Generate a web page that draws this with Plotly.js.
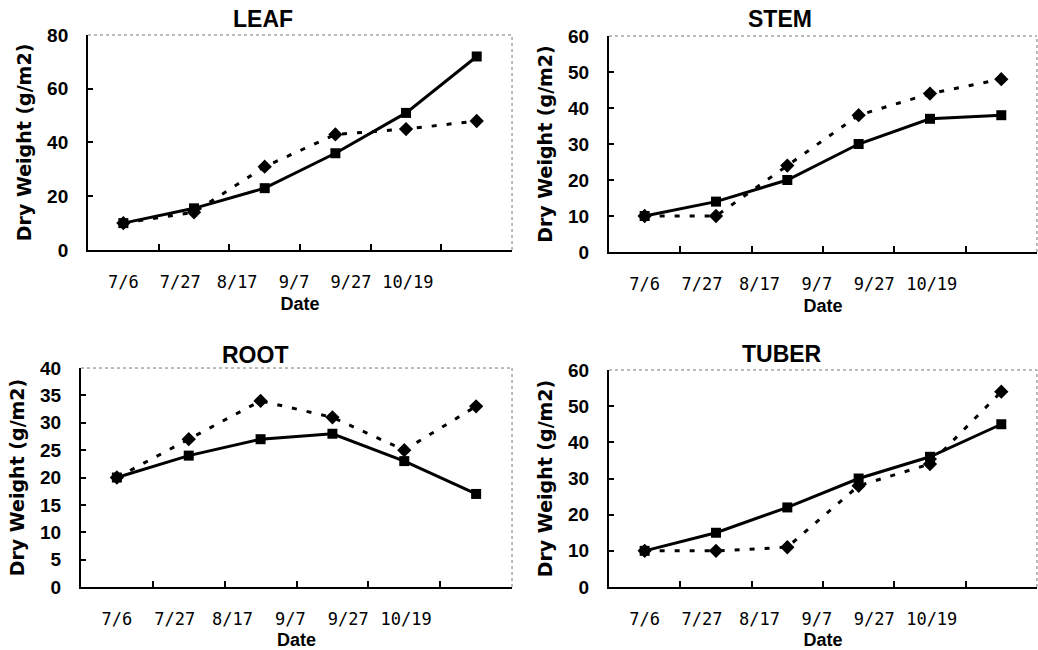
<!DOCTYPE html>
<html><head><meta charset="utf-8">
<script src="https://cdn.plot.ly/plotly-3.0.1.min.js"></script>
<style>html,body{margin:0;padding:0;background:#fff}#chart{width:1038px;height:650px}</style>
</head><body><div id="chart"></div>
<script>
const dates = ['7/6', '7/27', '8/17', '9/7', '9/27', '10/19'];
const panelTitles = ['LEAF', 'STEM', 'ROOT', 'TUBER'];
const leafSolid   = [10, 15.5, 23, 36, 51, 72];
const leafDotted  = [10, 14, 31, 43, 45, 48];
const stemSolid   = [10, 14, 20, 30, 37, 38];
const stemDotted  = [10, 10, 24, 38, 44, 48];
const rootSolid   = [20, 24, 27, 28, 23, 17];
const rootDotted  = [20, 27, 34, 31, 25, 33];
const tuberSolid  = [10, 15, 22, 30, 36, 45];
const tuberDotted = [10, 10, 11, 28, 34, 54];
const yMax  = [80, 60, 40, 60];
const yStep = [20, 10, 5, 10];

const solidSeries  = [leafSolid, stemSolid, rootSolid, tuberSolid];
const dottedSeries = [leafDotted, stemDotted, rootDotted, tuberDotted];

const xIdx = dates.map((d, i) => i);
const traces = [];
for (let p = 0; p < 4; p++) {
  const xa = p === 0 ? 'x' : 'x' + (p + 1);
  const ya = p === 0 ? 'y' : 'y' + (p + 1);
  traces.push({
    x: xIdx, y: dottedSeries[p], xaxis: xa, yaxis: ya, type: 'scatter', mode: 'lines+markers',
    line: {color: '#000', width: 3, dash: '5px,10px'},
    marker: {symbol: 'diamond', size: 11, color: '#000'},
    hoverinfo: 'skip', cliponaxis: false
  });
  traces.push({
    x: xIdx, y: solidSeries[p], xaxis: xa, yaxis: ya, type: 'scatter', mode: 'lines+markers',
    line: {color: '#000', width: 3},
    marker: {symbol: 'square', size: 10, color: '#000'},
    hoverinfo: 'skip', cliponaxis: false
  });
  // empty trace so the label-only overlay axis gets drawn
  traces.push({x: [], y: [], xaxis: 'x' + (p + 5), yaxis: ya, type: 'scatter', mode: 'lines', hoverinfo: 'skip'});
}

const xDomains = [[0.0848, 0.4933], [0.5867, 0.999], [0.0780, 0.4933], [0.5867, 0.999]];
const yDomains = [[0.6154, 0.9462], [0.6123, 0.9446], [0.0969, 0.4338], [0.0969, 0.4308]];
const titlePos = [[263, 19], [780, 19], [255, 355], [782, 354]];

const layout = {
  width: 1038, height: 650,
  margin: {l: 0, r: 0, t: 0, b: 0},
  paper_bgcolor: '#fff', plot_bgcolor: '#fff',
  showlegend: false,
  font: {family: 'Liberation Sans, Arial, sans-serif', color: '#000'},
  annotations: [], shapes: []
};

const boundaries = dates.slice(1).map((d, i) => i + 0.5);
const labelPos = dates.map((d, i) => i * 0.805);
for (let p = 0; p < 4; p++) {
  const sfx = p === 0 ? '' : String(p + 1);
  layout['xaxis' + sfx] = {
    domain: xDomains[p], anchor: 'y' + sfx, range: [-0.5, 5.5], fixedrange: true,
    showline: true, linecolor: '#000', linewidth: 2, showgrid: false, zeroline: false,
    tickmode: 'array', tickvals: boundaries, ticks: 'inside', ticklen: 6, tickwidth: 2, tickcolor: '#000',
    showticklabels: false
  };
  layout['xaxis' + (p + 5)] = {
    overlaying: 'x' + sfx, anchor: 'y' + sfx, side: 'bottom', range: [-0.5, 5.5], fixedrange: true,
    showline: false, showgrid: false, zeroline: false,
    tickmode: 'array', tickvals: labelPos, ticktext: dates, ticks: '',
    ticklabelstandoff: 20,
    tickfont: {family: 'DejaVu Sans Mono, Liberation Mono, monospace', size: 17, color: '#000'},
    title: {text: '<b>Date</b>', font: {size: 18, family: 'Liberation Sans, Arial, sans-serif'}, standoff: 6}
  };
  layout['yaxis' + sfx] = {
    domain: yDomains[p], anchor: 'x' + sfx, range: [0, yMax[p]], fixedrange: true,
    showline: true, linecolor: '#000', linewidth: 2, showgrid: false, zeroline: false,
    tickmode: 'linear', tick0: 0, dtick: yStep[p], ticks: 'inside', ticklen: 5, tickwidth: 2, tickcolor: '#000',
    ticklabelstandoff: 14,
    tickfont: {family: 'Liberation Sans, Arial, sans-serif', size: 19, color: '#000', weight: 'bold'},
    title: {text: '<b>Dry Weight (g/m2)</b>', font: {size: 19, family: 'DejaVu Sans, sans-serif'}, standoff: 10}
  };
  layout.shapes.push({type: 'line', xref: 'x' + sfx + ' domain', yref: 'y' + sfx + ' domain', x0: 0, x1: 1, y0: 1, y1: 1,
    line: {color: '#777', width: 1, dash: 'dot'}});
  layout.shapes.push({type: 'line', xref: 'x' + sfx + ' domain', yref: 'y' + sfx + ' domain', x0: 1, x1: 1, y0: 0, y1: 1,
    line: {color: '#777', width: 1, dash: 'dot'}});
  layout.annotations.push({
    text: '<b>' + panelTitles[p] + '</b>', xref: 'paper', yref: 'paper',
    x: titlePos[p][0] / 1038, y: 1 - titlePos[p][1] / 650, xanchor: 'center', yanchor: 'middle',
    showarrow: false, font: {size: 23, family: 'Liberation Sans, Arial, sans-serif', color: '#000'}
  });
}

Plotly.newPlot('chart', traces, layout, {staticPlot: true, displayModeBar: false});
</script>
</body></html>
